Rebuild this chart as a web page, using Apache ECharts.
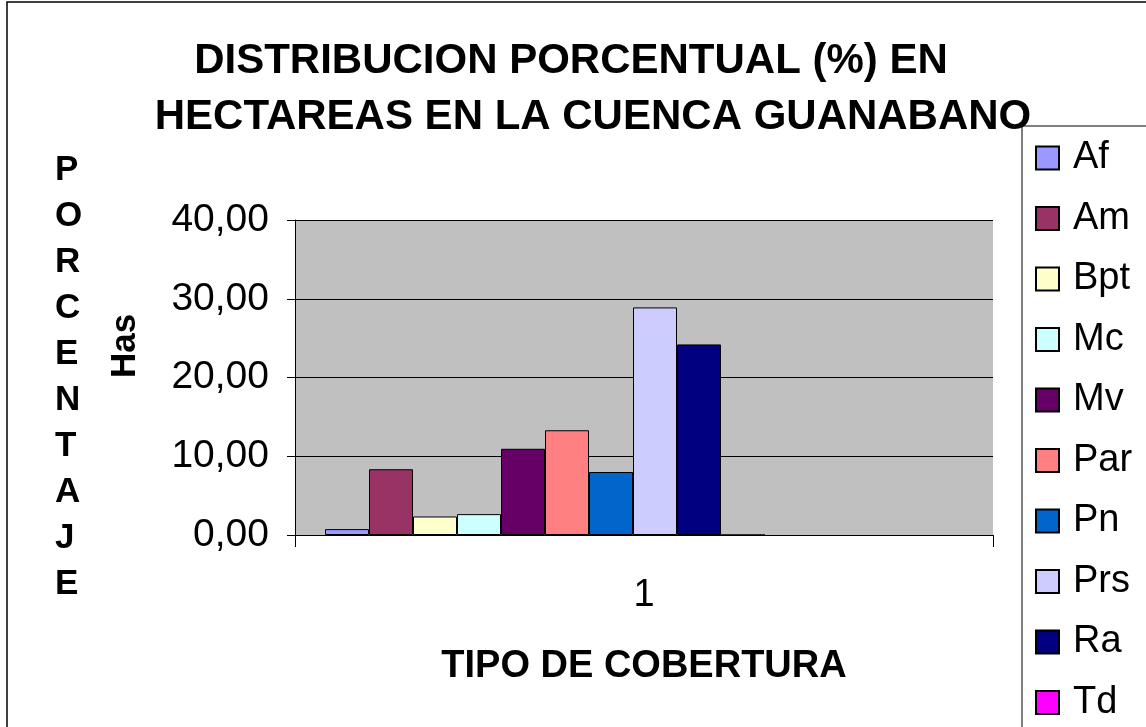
<!DOCTYPE html>
<html>
<head>
<meta charset="utf-8">
<title>Distribucion porcentual</title>
<script src="https://cdn.jsdelivr.net/npm/echarts@6/dist/echarts.min.js"></script>
<style>
  html, body { margin: 0; padding: 0; background: #fff; }
  #chart { width: 1146px; height: 727px; }
</style>
</head>
<body>
<div id="chart"></div>
<script>
  // datos
  var categorias = ["1"];
  var tipos = ["Af", "Am", "Bpt", "Mc", "Mv", "Par", "Pn", "Prs", "Ra", "Td"];
  var porcentajes = [0.75, 8.35, 2.35, 2.65, 10.95, 13.3, 8.0, 28.9, 24.2, 0];
  var colores = ["#9999FF", "#993366", "#FFFFCC", "#CCFFFF", "#660066",
                 "#FF8080", "#0066CC", "#CCCCFF", "#000080", "#FF00FF"];
  var ticksY = [0, 10, 20, 30, 40];

  var fuente = 'Arial, "Liberation Sans", sans-serif';
  var myChart = echarts.init(document.getElementById("chart"));

  var series = tipos.map(function (t, i) {
    return {
      name: t,
      type: "bar",
      barWidth: 44,
      barGap: "0%",
      itemStyle: { color: colores[i], borderColor: "#000", borderWidth: 1 },
      data: [porcentajes[i]]
    };
  });
  // espacio vacio a la derecha (como en el grafico de Excel)
  series.push({
    name: "_vacio",
    type: "bar",
    barWidth: 198,
    barGap: "0%",
    silent: true,
    data: ["-"]
  });

  var option = {
    animation: false,
    textStyle: { fontFamily: fuente },
    title: [
      {
        text: "DISTRIBUCION PORCENTUAL (%) EN",
        left: 566, top: 35, textAlign: "center",
        textStyle: { fontSize: 42, fontWeight: "bold", color: "#000", fontFamily: fuente }
      },
      {
        text: "HECTAREAS EN LA CUENCA GUANABANO",
        left: 588, top: 91, textAlign: "center",
        textStyle: { fontSize: 42, fontWeight: "bold", color: "#000", fontFamily: fuente }
      }
    ],
    legend: {
      orient: "vertical",
      left: 1022,
      top: 126,
      data: tipos,
      icon: "rect",
      padding: [13, 10, 0, 13],
      itemWidth: 23,
      itemHeight: 23,
      itemGap: 22.5,
      textStyle: { fontSize: 38, color: "#000", fontFamily: fuente, padding: [0, 0, 0, 9] }
    },
    grid: {
      left: 295,
      right: 153,
      top: 220,
      bottom: 192,
      show: true,
      backgroundColor: "#C0C0C0",
      borderWidth: 0
    },
    xAxis: {
      type: "category",
      data: categorias,
      name: "TIPO DE COBERTURA",
      nameLocation: "middle",
      nameGap: 113,
      nameTextStyle: { fontSize: 38, fontWeight: "bold", color: "#000", fontFamily: fuente },
      axisLine: { lineStyle: { color: "#000", width: 1 } },
      axisTick: { show: true, length: 12, alignWithLabel: false, lineStyle: { color: "#000" } },
      axisLabel: { fontSize: 38, color: "#000", margin: 42, fontFamily: fuente }
    },
    yAxis: {
      type: "value",
      min: ticksY[0],
      max: ticksY[ticksY.length - 1],
      interval: 10,
      axisLine: { show: true, lineStyle: { color: "#000", width: 1 } },
      axisTick: { show: true, length: 8, lineStyle: { color: "#000" } },
      splitLine: { show: true, lineStyle: { color: "#000", width: 1 } },
      axisLabel: {
        fontSize: 39,
        color: "#000",
        margin: 26,
        fontFamily: fuente,
        formatter: function (v) { return v.toFixed(2).replace(".", ","); }
      }
    },
    graphic: [
      {
        type: "rect",
        silent: true,
        shape: { x: 7, y: 2, width: 1160, height: 760 },
        style: { fill: "none", stroke: "#000", lineWidth: 1.5 },
        z: -10
      },
      {
        // marco de la leyenda
        type: "rect",
        silent: true,
        shape: { x: 1022, y: 126, width: 200, height: 700 },
        style: { fill: "#fff", stroke: "#000", lineWidth: 1 },
        z: 1
      },
      {
        type: "text",
        left: 55, top: 147,
        style: {
          text: "PORCENTAJE".split("").join("\n"),
          font: "bold 35px " + fuente,
          lineHeight: 46,
          fill: "#000",
          align: "center",
          width: 34
        }
      },
      {
        type: "text",
        x: 125, y: 346,
        rotation: Math.PI / 2,
        style: {
          text: "Has",
          font: "bold 35px " + fuente,
          fill: "#000",
          align: "center",
          verticalAlign: "middle"
        }
      }
    ],
    series: series
  };

  myChart.setOption(option);
  window.addEventListener("resize", function () {
    myChart.resize();
  });
</script>
</body>
</html>
